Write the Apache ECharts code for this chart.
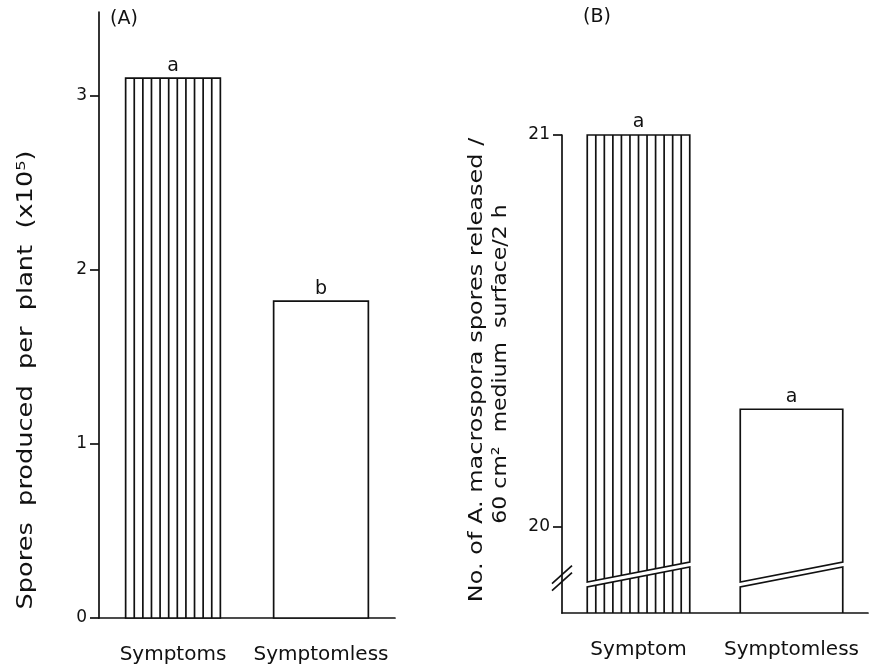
<!DOCTYPE html>
<html><head><meta charset="utf-8">
<script src="https://cdn.jsdelivr.net/npm/echarts@6/dist/echarts.min.js"></script>
<style>html,body{margin:0;padding:0;background:#fff}#c{width:883px;height:670px}</style>
</head><body><div id="c"></div>
<script>
// ---- data ----
const categoriesA = ['Symptoms', 'Symptomless'];
const valuesA = [3.1, 1.82];
const lettersA = ['a', 'b'];
const hatchedA = [true, false];
const tickValuesA = [0, 1, 2, 3];

const categoriesB = ['Symptom', 'Symptomless'];
const valuesB = [21.0, 20.3];
const lettersB = ['a', 'a'];
const hatchedB = [true, false];
const tickValuesB = [20, 21];

// ---- styling ----
const FONT = 'DejaVu Sans';
const INK = '#111';
const LW = 1.7;
const axisRangeA = { min: 0, max: 3.48 };
const axisRangeB = { min: 19.78, max: 21 };
const breakValueB = 19.87;
const gridA = { left: 99, top: 12, width: 296, bottom: 52 };
const gridB = { left: 562, top: 135, width: 306, bottom: 57 };

function makeRender(hatched, letters, yMin, widthRatio, nLines, broken) {
  return function (params, api) {
    const i = api.value(0), v = api.value(1);
    const top = api.coord([i, v]);
    const base = api.coord([i, yMin]);
    const bw = api.size([1, 0])[0] * widthRatio;
    const x0 = top[0] - bw / 2, x1 = top[0] + bw / 2;
    const yT = top[1], yB = base[1];
    const st = { stroke: INK, lineWidth: LW, fill: null };
    const children = [];
    let upperAt = null, lowerAt = null;
    if (broken) {
      const gL = yB - 31, gR = yB - 51, gap = 5;
      upperAt = x => gL + (gR - gL) * (x - x0) / (x1 - x0);
      lowerAt = x => upperAt(x) + gap;
      children.push({ type: 'polygon', shape: { points: [[x0, yT], [x1, yT], [x1, upperAt(x1)], [x0, upperAt(x0)]] }, style: { stroke: INK, lineWidth: LW, fill: '#fff' } });
      children.push({ type: 'polyline', shape: { points: [[x0, yB], [x0, lowerAt(x0)], [x1, lowerAt(x1)], [x1, yB]] }, style: st });
    } else {
      children.push({ type: 'rect', shape: { x: x0, y: yT, width: bw, height: yB - yT }, style: { stroke: INK, lineWidth: LW, fill: '#fff' } });
    }
    if (hatched[i]) {
      for (let k = 1; k <= nLines; k++) {
        const x = x0 + k * bw / (nLines + 1);
        if (broken) {
          children.push({ type: 'line', shape: { x1: x, y1: yT, x2: x, y2: upperAt(x) }, style: st });
          children.push({ type: 'line', shape: { x1: x, y1: lowerAt(x), x2: x, y2: yB }, style: st });
        } else {
          children.push({ type: 'line', shape: { x1: x, y1: yT, x2: x, y2: yB }, style: st });
        }
      }
    }
    children.push({ type: 'text', style: { text: letters[i], x: top[0], y: yT - 3, align: 'center', verticalAlign: 'bottom', font: '19px "' + FONT + '"', fill: INK } });
    return { type: 'group', children };
  };
}

const chart = echarts.init(document.getElementById('c'), null, { renderer: 'canvas' });

const xAxisCommon = {
  type: 'category',
  boundaryGap: true,
  axisLine: { lineStyle: { color: INK, width: LW } },
  axisTick: { show: false },
  axisLabel: { color: INK, fontFamily: FONT, fontSize: 20, margin: 27, interval: 0 },
  splitLine: { show: false }
};
const yAxisCommon = {
  type: 'value',
  axisLine: { show: true, lineStyle: { color: INK, width: LW } },
  axisTick: { show: true, inside: false, length: 9, lineStyle: { color: INK, width: LW } },
  axisLabel: { color: INK, fontFamily: FONT, fontSize: 17, margin: 12 },
  splitLine: { show: false }
};

chart.setOption({
  backgroundColor: '#fff',
  animation: false,
  grid: [gridA, gridB],
  xAxis: [
    Object.assign({}, xAxisCommon, { gridIndex: 0, data: categoriesA }),
    Object.assign({}, xAxisCommon, { gridIndex: 1, data: categoriesB })
  ],
  yAxis: [
    Object.assign({}, yAxisCommon, {
      gridIndex: 0, min: axisRangeA.min, max: axisRangeA.max,
      axisTick: Object.assign({}, yAxisCommon.axisTick, { customValues: tickValuesA }),
      axisLabel: Object.assign({}, yAxisCommon.axisLabel, { customValues: tickValuesA })
    }),
    Object.assign({}, yAxisCommon, {
      gridIndex: 1, min: axisRangeB.min, max: axisRangeB.max,
      axisTick: Object.assign({}, yAxisCommon.axisTick, { customValues: tickValuesB }),
      axisLabel: Object.assign({}, yAxisCommon.axisLabel, { customValues: tickValuesB })
    })
  ],
  series: [
    {
      type: 'custom', xAxisIndex: 0, yAxisIndex: 0,
      renderItem: makeRender(hatchedA, lettersA, axisRangeA.min, 0.64, 10, false),
      encode: { x: 0, y: 1 },
      data: valuesA.map((v, i) => [i, v])
    },
    {
      type: 'custom', xAxisIndex: 1, yAxisIndex: 1,
      renderItem: makeRender(hatchedB, lettersB, axisRangeB.min, 0.67, 11, true),
      encode: { x: 0, y: 1 },
      data: valuesB.map((v, i) => [i, v])
    }
  ],
  graphic: [
    { id: 'tA', type: 'text', left: 110, top: 10, style: { text: '(A)', font: '19px "' + FONT + '"', fill: INK } },
    { id: 'tB', type: 'text', left: 583, top: 8, style: { text: '(B)', font: '19px "' + FONT + '"', fill: INK } },
    { id: 'yA', type: 'text', x: 27, y: 380, rotation: Math.PI / 2, scaleX: 1.22,
      style: { text: 'Spores  produced  per  plant  (x10\u2075)', font: '21px "' + FONT + '"', fill: INK, align: 'center', verticalAlign: 'middle' } },
    { id: 'yB1', type: 'text', x: 477, y: 370, rotation: Math.PI / 2, scaleX: 1.2,
      style: { text: 'No. of A. macrospora spores released /', font: '20px "' + FONT + '"', fill: INK, align: 'center', verticalAlign: 'middle' } },
    { id: 'yB2', type: 'text', x: 501, y: 364, rotation: Math.PI / 2, scaleX: 1.1,
      style: { text: '60 cm\u00B2  medium  surface/2 h', font: '20px "' + FONT + '"', fill: INK, align: 'center', verticalAlign: 'middle' } }
  ]
});

// axis break marks on panel B's value axis, placed through the axis scale
const yc = chart.convertToPixel({ yAxisIndex: 1 }, breakValueB);
const ax = gridB.left;
chart.setOption({
  graphic: [
    { id: 'brk1', type: 'line', shape: { x1: ax - 10, y1: yc + 6, x2: ax + 10, y2: yc - 12 }, style: { stroke: INK, lineWidth: LW } },
    { id: 'brk2', type: 'line', shape: { x1: ax - 10, y1: yc + 13, x2: ax + 10, y2: yc - 5 }, style: { stroke: INK, lineWidth: LW } }
  ]
});
</script>
</body></html>
